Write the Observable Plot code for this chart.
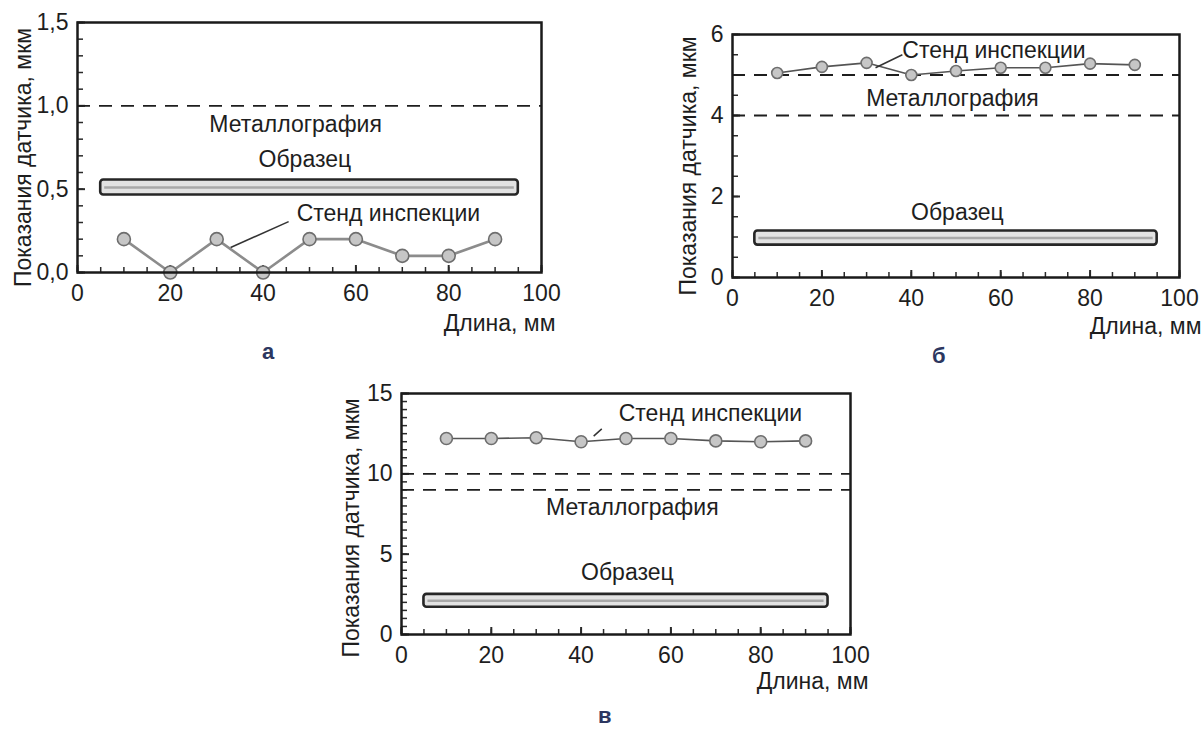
<!DOCTYPE html>
<html>
<head>
<meta charset="utf-8">
<script src="https://cdn.jsdelivr.net/npm/d3@7"></script>
<script src="https://cdn.jsdelivr.net/npm/@observablehq/plot@0.6"></script>
<style>
  html, body { margin: 0; padding: 0; background: #fff; }
  #root { position: relative; width: 1204px; height: 729px; overflow: hidden; font-family: "Liberation Sans", Arial, sans-serif; }
  .panel { position: absolute; }
  .letter { position: absolute; font-size: 22px; font-weight: bold; color: #2c3760; font-family: "Liberation Sans", Arial, sans-serif; }
</style>
</head>
<body>
<div id="root">
  <div id="pa" class="panel" style="left:0px;top:0px"></div>
  <div id="pb" class="panel" style="left:650px;top:0px"></div>
  <div id="pc" class="panel" style="left:330px;top:370px"></div>
  <div class="letter" style="left:262px;top:339px">а</div>
  <div class="letter" style="left:932px;top:343px">б</div>
  <div class="letter" style="left:598px;top:703px">в</div>
</div>
<script>
// ---- data ----
const lengthMm = [10, 20, 30, 40, 50, 60, 70, 80, 90];
const standA = [0.2, 0.0, 0.2, 0.0, 0.2, 0.2, 0.1, 0.1, 0.2];
const standB = [5.05, 5.2, 5.3, 5.0, 5.1, 5.18, 5.18, 5.28, 5.25];
const standC = [12.2, 12.2, 12.25, 12.0, 12.2, 12.2, 12.05, 12.0, 12.05];
const metalA = [1.0];
const metalB = [4.0, 5.0];
const metalC = [9.0, 10.0];
const sampleX = [5, 95];
const sampleA = [0.465, 0.555];
const sampleB = [0.8, 1.15];
const sampleC = [1.7, 2.5];
const xTicks = [0, 20, 40, 60, 80, 100];
const yTicksA = [0, 0.5, 1.0, 1.5];
const yTicksB = [0, 2, 4, 6];
const yTicksC = [0, 5, 10, 15];
const yMinorStepA = 0.1, yMinorStepB = 0.5, yMinorStepC = 0.5, xMinorStep = 5;
const yLabel = "Показания датчика, мкм";
const xLabel = "Длина, мм";
const labelStand = "Стенд инспекции";
const labelMetal = "Металлография";
const labelSample = "Образец";
// annotation anchors (data space)
const notesA = [
  {text: labelMetal, x: 47, y: 0.89},
  {text: labelSample, x: 49, y: 0.675},
  {text: labelStand, x: 67, y: 0.355}
];
const leaderA = [{x1: 45.5, y1: 0.305, x2: 33, y2: 0.15}];
const notesB = [
  {text: labelStand, x: 58.5, y: 5.6},
  {text: labelMetal, x: 49.2, y: 4.42},
  {text: labelSample, x: 50.3, y: 1.6}
];
const leaderB = [{x1: 38, y1: 5.5, x2: 32, y2: 5.18}];
const notesC = [
  {text: labelStand, x: 68.8, y: 13.75},
  {text: labelMetal, x: 51.4, y: 7.9},
  {text: labelSample, x: 50.3, y: 3.86}
];
const leaderC = [{x1: 44.6, y1: 12.8, x2: 42.8, y2: 12.35}];

// ---- drawing ----
const FONT = "'Liberation Sans', Arial, sans-serif";
function range(a, b, s) { const out = []; for (let v = a; v <= b + 1e-9; v += s) out.push(+v.toFixed(6)); return out; }

function panel(opt) {
  const innerW = opt.width - opt.ml - opt.mr;
  const innerH = opt.height - opt.mt - opt.mb;
  const pts = lengthMm.map((x, i) => ({x, y: opt.stand[i]}));
  const sample = [{x1: sampleX[0], x2: sampleX[1], y1: opt.sample[0], y2: opt.sample[1], ym: (opt.sample[0] + opt.sample[1]) / 2}];
  return Plot.plot({
    width: opt.width, height: opt.height,
    marginLeft: opt.ml, marginRight: opt.mr, marginTop: opt.mt, marginBottom: opt.mb,
    style: {fontFamily: FONT, fontSize: "23px", color: "#1e1e1e", background: "transparent", overflow: "visible"},
    x: {domain: [0, 100]},
    y: {domain: opt.ydomain},
    marks: [
      // inward minor/major ticks
      Plot.tickY(range(opt.ydomain[0], opt.ydomain[1], opt.yMinor), {insetRight: innerW - 6, stroke: "#2a2a2a", strokeWidth: 1.5}),
      Plot.tickY(opt.yTicks, {insetRight: innerW - 8, stroke: "#2a2a2a", strokeWidth: 2}),
      Plot.tickX(range(0, 100, xMinorStep), {insetTop: innerH - 5, stroke: "#2a2a2a", strokeWidth: 1.5}),
      Plot.tickX(xTicks, {insetTop: innerH - 7, stroke: "#2a2a2a", strokeWidth: 2}),
      // metallography dashed lines
      Plot.ruleY(opt.metal, {stroke: "#1e1e1e", strokeWidth: 1.9, strokeDasharray: "13,9"}),
      // sample bar
      Plot.rect(sample, {x1: "x1", x2: "x2", y1: "y1", y2: "y2", fill: "#e2e2e2", stroke: "#262626", strokeWidth: 2.6, rx: 3}),
      Plot.ruleY(sample, {x1: "x1", x2: "x2", y: "ym", stroke: "#a8a8a8", strokeWidth: 2.5, insetLeft: 4, insetRight: 4}),
      // inspection stand series
      Plot.line(pts, {x: "x", y: "y", stroke: opt.lineColor, strokeWidth: opt.lineWidth}),
      Plot.link(opt.leader, {x1: "x1", y1: "y1", x2: "x2", y2: "y2", stroke: "#333", strokeWidth: 1.5}),
      Plot.dot(pts, {x: "x", y: "y", r: opt.r, fill: "#c6c6c6", stroke: "#6e6e6e", strokeWidth: 1.6}),
      // annotations
      Plot.text(opt.notes, {x: "x", y: "y", text: "text", fontSize: 23, fill: "#1e1e1e"}),
      // axes
      Plot.axisY(opt.yTicks, {tickSize: 0, tickPadding: 9, tickFormat: opt.fmt, label: null, fontSize: 23}),
      Plot.axisX(xTicks, {tickSize: 0, tickPadding: 12, label: null, fontSize: 23}),
      Plot.text([yLabel], {frameAnchor: "left", textAnchor: "middle", lineAnchor: "middle", rotate: -90, dx: -opt.ylabDx, dy: opt.ylabDy, fontSize: 23, fill: "#1e1e1e"}),
      Plot.text([xLabel], {frameAnchor: "bottom-right", textAnchor: "end", lineAnchor: "middle", dx: opt.xlabDx, dy: opt.xlabDy, fontSize: 23, fill: "#1e1e1e"}),
      Plot.frame({stroke: "#1a1a1a", strokeWidth: 2.5})
    ]
  });
}

const fmtComma = d => d.toFixed(1).replace(".", ",");

document.getElementById("pa").appendChild(panel({
  width: 580, height: 345, ml: 77, mr: 39, mt: 22, mb: 73,
  ydomain: [0, 1.5], yTicks: yTicksA, yMinor: yMinorStepA, fmt: fmtComma,
  stand: standA, metal: metalA, sample: sampleA, notes: notesA, leader: leaderA,
  lineColor: "#8c8c8c", lineWidth: 2.6, r: 6.5,
  ylabDx: 54, ylabDy: 10, xlabDx: 14, xlabDy: 51
}));
document.getElementById("pb").appendChild(panel({
  width: 554, height: 345, ml: 82, mr: 25, mt: 34, mb: 68,
  ydomain: [0, 6], yTicks: yTicksB, yMinor: yMinorStepB, fmt: d => String(d),
  stand: standB, metal: metalB, sample: sampleB, notes: notesB, leader: leaderB,
  lineColor: "#555", lineWidth: 1.6, r: 5.5,
  ylabDx: 44, ylabDy: 10, xlabDx: 22, xlabDy: 49
}));
document.getElementById("pc").appendChild(panel({
  width: 560, height: 359, ml: 71, mr: 40, mt: 23, mb: 95,
  ydomain: [0, 15], yTicks: yTicksC, yMinor: yMinorStepC, fmt: d => String(d),
  stand: standC, metal: metalC, sample: sampleC, notes: notesC, leader: leaderC,
  lineColor: "#555", lineWidth: 1.6, r: 6,
  ylabDx: 50, ylabDy: 14, xlabDx: 18, xlabDy: 47
}));
</script>
</body>
</html>
